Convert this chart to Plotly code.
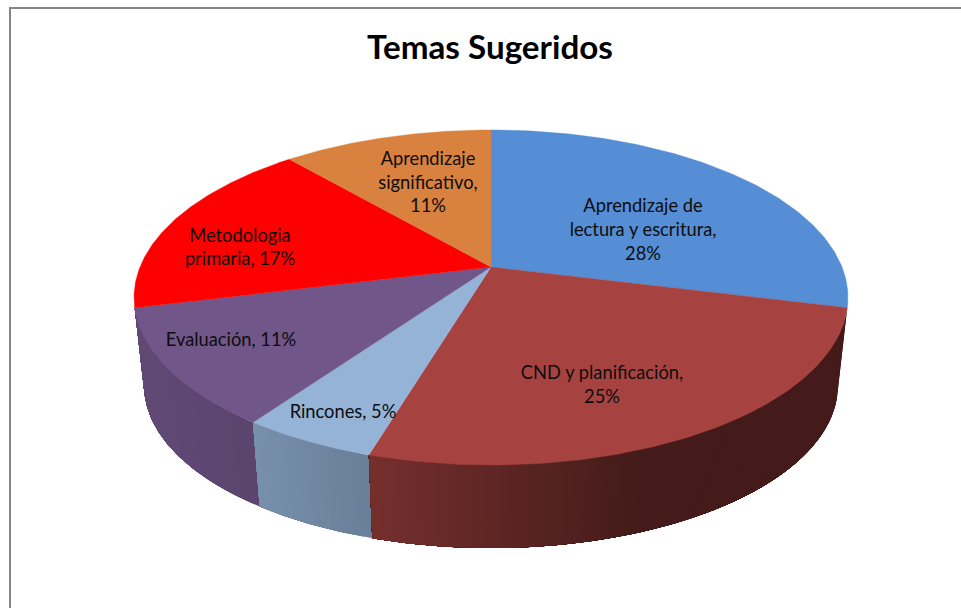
import numpy as np
import plotly.graph_objects as go

# ---- data ----
categories = ["Aprendizaje de lectura y escritura", "CND y planificación", "Rincones",
              "Evaluación", "Metodologia primaria", "Aprendizaje significativo"]
values = [28, 25, 5, 11, 17, 11]
label_texts = ["Aprendizaje de<br>lectura y escritura,<br>28%",
               "CND y planificación,<br>25%",
               "Rincones, 5%",
               "Evaluación, 11%",
               "Metodologia<br>primaria, 17%",
               "Aprendizaje<br>significativo,<br>11%"]
title_text = "Temas Sugeridos"

# ---- style ----
colors = ["#558ED5", "#A64340", "#95B3D7", "#71568A", "#FF0000", "#D9813F"]
wall_slices = [3, 2, 1]
label_xy = [(643, 231.5), (602, 386.5), (343, 413), (231, 341), (240, 249), (428, 184)]
FONT = "Lato, Carlito, Calibri, sans-serif"
CX, CY, A, B, K = 491.0, 267.0, 351.0, 162.0, 0.182
BOT_SCALE, BOT_CY = 0.972, 355.5
shade_x = [145, 260, 370, 640, 850]
shade_f = [0.85, 0.80, 0.71, 0.41, 0.41]


def project(theta, top=True):
    u, v = np.sin(theta), -np.cos(theta)
    w = 1 - K * v
    s = 1.0 if top else BOT_SCALE
    cy = CY if top else BOT_CY
    return CX + s * A * u / w, cy + s * B * v / w


def shade(hex_color, x):
    f = float(np.interp(x, shade_x, shade_f))
    r, g, b = [int(hex_color[i:i + 2], 16) for i in (1, 3, 5)]
    return f"rgb({r * f:.0f},{g * f:.0f},{b * f:.0f})"


edges = np.concatenate([[0], np.cumsum(values)]) / sum(values) * 2 * np.pi
fig = go.Figure()

# side walls: each strip reaches to the slice's far end and the next strip paints over it,
# so the shade changes along the rim without seams
for i in wall_slices:
    n = max(2, int(np.degrees(edges[i + 1] - edges[i]) / 1.2))
    ts = np.linspace(edges[i], edges[i + 1], n + 1)
    for t0 in ts[:-1]:
        arc = np.linspace(t0, edges[i + 1], 60)
        xt, yt = project(arc, True)
        xb, yb = project(arc[::-1], False)
        xm = (project(np.array([t0]), True)[0][0] + project(np.array([t0]), False)[0][0]) / 2
        col = shade(colors[i], xm)
        fig.add_trace(go.Scatter(x=np.r_[xt, xb, xt[0]], y=np.r_[yt, yb, yt[0]], mode="lines",
                                 fill="toself", fillcolor=col, line=dict(width=0),
                                 hoverinfo="skip", showlegend=False))

# top face
for i, cat in enumerate(categories):
    ts = np.linspace(edges[i], edges[i + 1], 120)
    xr, yr = project(ts, True)
    fig.add_trace(go.Scatter(x=np.r_[CX, xr, CX], y=np.r_[CY, yr, CY], mode="lines",
                             fill="toself", fillcolor=colors[i],
                             line=dict(color=colors[i], width=0.4), name=cat,
                             hoverinfo="name", showlegend=False))

# data labels
fig.add_trace(go.Scatter(x=[p[0] for p in label_xy], y=[p[1] for p in label_xy], mode="text",
                         text=label_texts, textposition="middle center",
                         textfont=dict(family=FONT, size=18.3, color="#0d0d0d"),
                         hoverinfo="skip", showlegend=False))

fig.update_layout(
    width=961, height=608, autosize=False,
    margin=dict(l=0, r=0, t=0, b=0),
    paper_bgcolor="white", plot_bgcolor="white", showlegend=False,
    title=dict(text=f"<b>{title_text}</b>", x=490 / 961, xanchor="center",
               y=1 - 47 / 608, yanchor="middle", yref="container",
               font=dict(family=FONT, size=33.2, color="black")),
    xaxis=dict(range=[0, 961], visible=False, fixedrange=True),
    yaxis=dict(range=[608, 0], visible=False, fixedrange=True),
    shapes=[dict(type="rect", xref="x", yref="y", x0=10, y0=8, x1=1000, y1=700,
                 line=dict(color="#868686", width=2), fillcolor="rgba(0,0,0,0)", layer="below")],
)
fig.write_html("out.html", config=dict(displayModeBar=False),
               post_script="document.body.style.margin='0';document.body.style.overflow='hidden';")
